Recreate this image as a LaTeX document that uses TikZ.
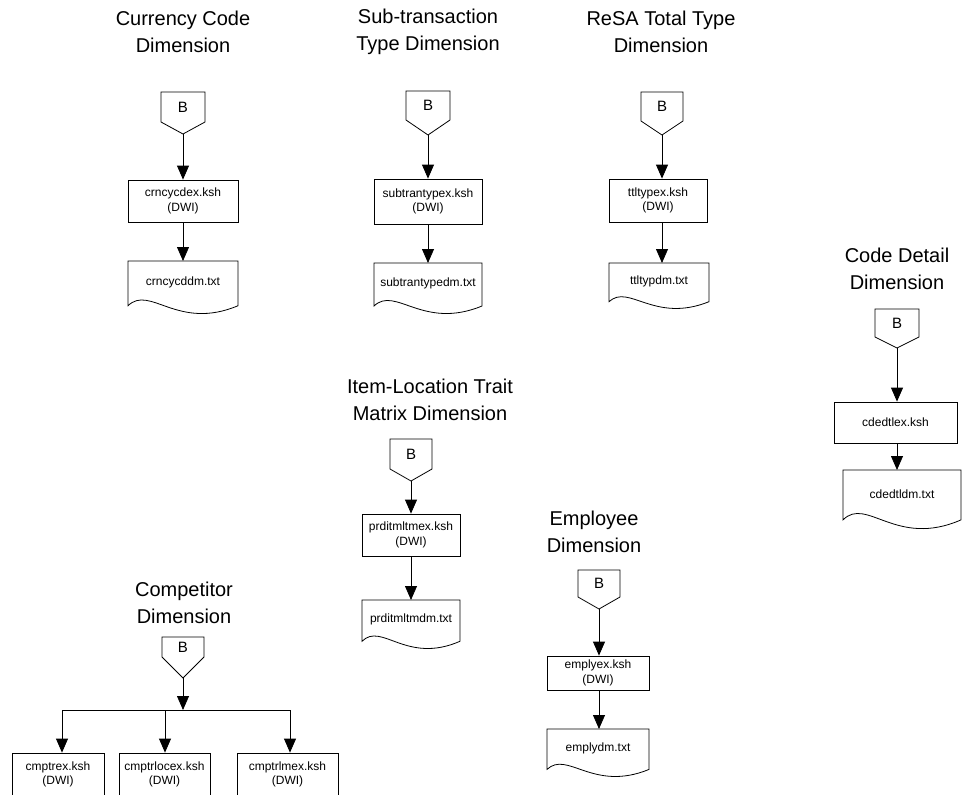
\documentclass[tikz,border=0pt]{standalone}
\usepackage{fontspec}
\setmainfont{Liberation Sans}
\usetikzlibrary{arrows.meta}
\tikzset{
  line/.style={draw=black,line width=0.8pt},
  arr/.style={line,-{Triangle[width=12pt,length=14pt]}},
  title/.style={align=center,font=\fontsize{20}{27}\selectfont,inner sep=0pt},
  proc/.style={line,rectangle,align=center,font=\fontsize{12}{14.5}\selectfont,inner sep=0pt},
  doclabel/.style={align=center,font=\fontsize{12}{14.5}\selectfont,inner sep=0pt},
  blabel/.style={font=\fontsize{15}{17}\selectfont,inner sep=0pt}
}
% off-page connector: name, cx, top, shoulder, tip, halfwidth
\newcommand{\offpg}[6]{%
  \draw[line] ({#2-#6},#3) -- ({#2+#6},#3) -- ({#2+#6},#4) -- (#2,#5) -- ({#2-#6},#4) -- cycle;
  \node[blabel] (#1) at (#2,{(#3+#4)/2}) {B};
  \coordinate (#1-tip) at (#2,#5);}
% process box: name, x0, y0, x1, y1, text
\newcommand{\procbx}[6]{%
  \node[proc,minimum width={#4-#2},minimum height={#5-#3}] (#1) at ({(#2+#4)/2},{(#3+#5)/2}) {#6};}
% document shape: name, x0, y0, x1, y1 (lowest point of wave), text
\newcommand{\docshp}[6]{%
  \draw[line] (#2,#3) -- (#4,#3) -- (#4,{#3+0.86*(#5-#3)})
    .. controls ({#2+0.45*(#4-#2)},{#3+1.35*(#5-#3)}) and ({#2+0.2*(#4-#2)},{#3+0.45*(#5-#3)})
    .. (#2,{#3+0.86*(#5-#3)}) -- cycle;
  \node[doclabel,minimum width={#4-#2},minimum height={0.82*(#5-#3)},anchor=north] (#1) at ({(#2+#4)/2},#3) {#6};}
\begin{document}
\begin{tikzpicture}[x=1pt,y=-1pt]
\useasboundingbox (0,0) rectangle (964,795);
\fill[white] (0,0) rectangle (964,795);

% Currency Code Dimension
\node[title] (t1) at (183,32) {Currency Code\\Dimension};
\offpg{b1}{183}{92}{122}{134}{22}
\procbx{p1}{128}{180}{238}{222}{crncycdex.ksh\\(DWI)}
\docshp{d1}{128}{261}{238}{313}{crncycddm.txt}
\draw[arr] (b1-tip) -- (p1.north);
\draw[arr] (p1.south) -- (d1.north);

% Sub-transaction Type Dimension
\node[title] (t2) at (428,32) {Sub-transaction\\Type Dimension};
\offpg{b2}{428}{91}{120}{135}{22}
\procbx{p2}{374}{179}{482}{224}{subtrantypex.ksh\\(DWI)}
\docshp{d2}{374}{263}{482}{313}{subtrantypedm.txt}
\draw[arr] (b2-tip) -- (p2.north);
\draw[arr] (p2.south) -- (d2.north);

% ReSA Total Type Dimension
\node[title] (t3) at (661,32) {ReSA Total Type\\Dimension};
\offpg{b3}{662}{92}{121}{135}{21}
\procbx{p3}{609}{179}{707}{222}{ttltypex.ksh\\(DWI)}
\docshp{d3}{609}{263}{709}{308}{ttltypdm.txt}
\draw[arr] (b3-tip) -- (b3-tip |- p3.north);
\draw[arr] (b3-tip |- p3.south) -- (b3-tip |- d3.north);

% Code Detail Dimension
\node[title] (t4) at (897,269) {Code Detail\\Dimension};
\offpg{b4}{897}{309}{337}{348}{22}
\procbx{p4}{834}{402}{957}{443}{cdedtlex.ksh}
\docshp{d4}{843}{470}{961}{528}{cdedtldm.txt}
\draw[arr] (b4-tip) -- (b4-tip |- p4.north);
\draw[arr] (b4-tip |- p4.south) -- (b4-tip |- d4.north);

% Item-Location Trait Matrix Dimension
\node[title] (t5) at (430,400) {Item-Location Trait\\Matrix Dimension};
\offpg{b5}{411}{439}{469}{481}{21}
\procbx{p5}{362}{514}{460}{556}{prditmltmex.ksh\\(DWI)}
\docshp{d5}{362}{600}{460}{648}{prditmltmdm.txt}
\draw[arr] (b5-tip) -- (p5.north);
\draw[arr] (p5.south) -- (d5.north);

% Employee Dimension
\node[title] (t6) at (594,532) {Employee\\Dimension};
\offpg{b6}{599}{570}{597}{609}{21}
\procbx{p6}{547}{656}{649}{690}{emplyex.ksh\\(DWI)}
\docshp{d6}{547}{729}{649}{776}{emplydm.txt}
\draw[arr] (b6-tip) -- (b6-tip |- p6.north);
\draw[arr] (b6-tip |- p6.south) -- (b6-tip |- d6.north);

% Competitor Dimension
\node[title] (t7) at (184,603) {Competitor\\Dimension};
\offpg{b7}{183}{637}{657}{678}{21}
\coordinate (j0) at (183,710);
\coordinate (j1) at (62,710);
\coordinate (j2) at (165,710);
\coordinate (j3) at (290,710);
\procbx{p7}{12}{753}{104}{796}{cmptrex.ksh\\(DWI)}
\procbx{p8}{119}{753}{210}{796}{cmptrlocex.ksh\\(DWI)}
\procbx{p9}{237}{753}{338}{796}{cmptrlmex.ksh\\(DWI)}
\draw[arr] (b7-tip) -- (j0);
\draw[line] (j1) -- (j3);
\draw[arr] (j1) -- (j1 |- p7.north);
\draw[arr] (j2) -- (j2 |- p8.north);
\draw[arr] (j3) -- (j3 |- p9.north);
\end{tikzpicture}
\end{document}
